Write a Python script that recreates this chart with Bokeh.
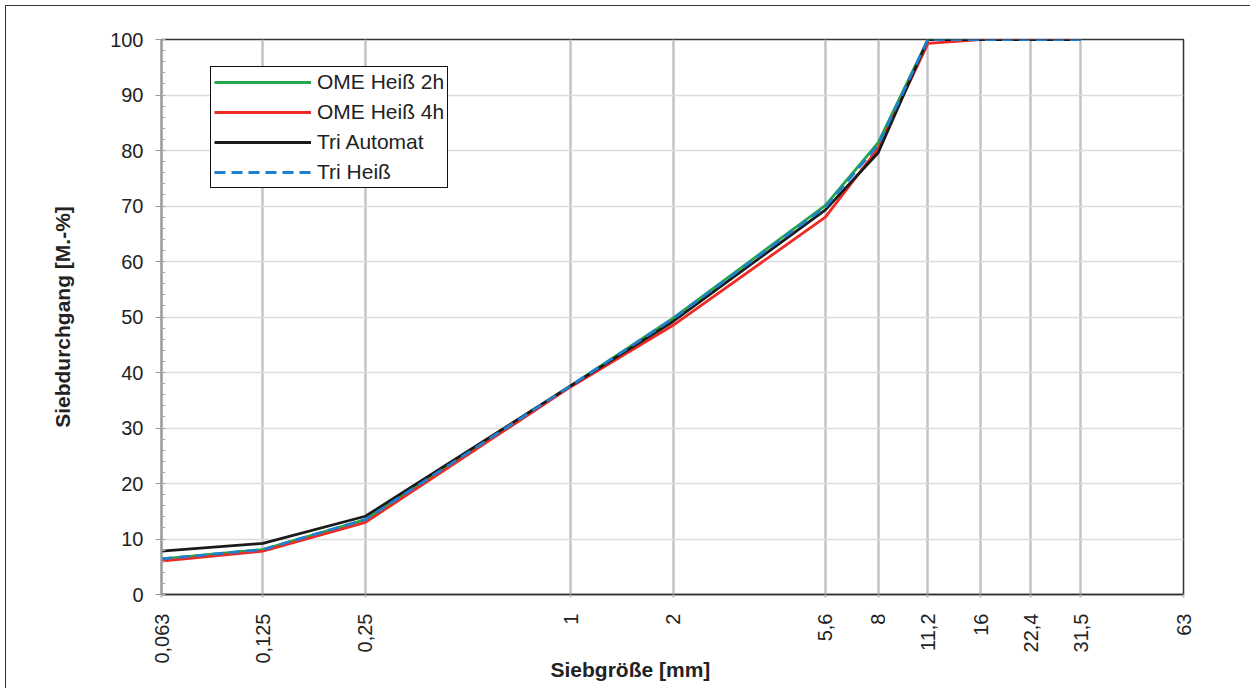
import math
from bokeh.plotting import figure
from bokeh.models import Range1d, FixedTicker, Legend, LegendItem, Title
from bokeh.embed import file_html
from bokeh.resources import INLINE

# Sieve sizes [mm] and passing percentages [M.-%]
sieve_sizes = [0.063, 0.125, 0.25, 1, 2, 5.6, 8, 11.2, 16, 22.4, 31.5]
ome_hot_2h = [6.4, 8.1, 13.5, 37.6, 49.8, 70.1, 81.4, 100.0, 100.0, 100.0, 100.0]
ome_hot_4h = [6.0, 7.8, 13.0, 37.4, 48.5, 68.0, 80.4, 99.3, 100.0, 100.0, 100.0]
tri_auto = [7.8, 9.2, 14.1, 37.6, 49.2, 69.3, 79.6, 100.0, 100.0, 100.0, 100.0]
tri_hot = [6.4, 8.1, 13.5, 37.6, 49.7, 69.8, 81.0, 100.0, 100.0, 100.0, 100.0]

# Axis ticks
x_ticks = [0.063, 0.125, 0.25, 1, 2, 5.6, 8, 11.2, 16, 22.4, 31.5, 63]
x_tick_labels = ["0,063", "0,125", "0,25", "1", "2", "5,6", "8", "11,2", "16", "22,4", "31,5", "63"]
y_ticks = list(range(0, 101, 10))

FONT = "Liberation Sans"
FS = "20px"
FS_BIG = "21px"

p = figure(
    width=1245, height=683,
    x_axis_type="log",
    x_range=Range1d(0.063, 63), y_range=Range1d(0, 100),
    output_backend="svg", toolbar_location=None,
    min_border_left=155, min_border_top=33, min_border_right=68, min_border_bottom=95,
    styles={"margin-left": "5px", "margin-top": "5px",
            "border-left": "1px solid #333", "border-top": "1px solid #333"},
)
p.background_fill_color = "white"
p.border_fill_color = "white"
p.outline_line_color = "#333333"
p.outline_line_width = 1.5

# x axis
xa = p.xaxis[0]
xa.ticker = FixedTicker(ticks=x_ticks, minor_ticks=[])
xa.major_label_overrides = {t: l for t, l in zip(x_ticks, x_tick_labels)}
xa.major_label_orientation = math.pi / 2
xa.major_label_text_font = FONT
xa.major_label_text_font_size = FS
xa.major_label_text_color = "#222222"
xa.major_label_standoff = 16
xa.major_tick_out = 3
xa.major_tick_in = 0
xa.major_tick_line_color = "#bbbbbb"
xa.major_tick_line_width = 2
xa.minor_tick_line_color = None
xa.axis_line_color = "#333333"
xa.axis_line_width = 1.5

# y axis
ya = p.yaxis[0]
ya.ticker = FixedTicker(ticks=y_ticks, minor_ticks=list(range(0, 101, 2)))
ya.major_label_text_font = FONT
ya.major_label_text_font_size = FS
ya.major_label_text_color = "#222222"
ya.major_label_standoff = 12
ya.major_tick_out = 6
ya.major_tick_in = 0
ya.major_tick_line_color = "#999999"
ya.minor_tick_in = 4
ya.minor_tick_out = 0
ya.minor_tick_line_color = "#aaaaaa"
ya.axis_line_color = "#999999"
ya.axis_line_width = 2
ya.axis_label = "Siebdurchgang [M.-%]"
ya.axis_label_text_font = FONT
ya.axis_label_text_font_size = FS_BIG
ya.axis_label_text_font_style = "bold"
ya.axis_label_text_color = "#222222"
ya.axis_label_standoff = 33

# grids
p.xgrid.ticker = FixedTicker(ticks=x_ticks, minor_ticks=[])
p.xgrid.grid_line_color = "#c3c3c8"
p.xgrid.grid_line_width = 2.5
p.ygrid.ticker = FixedTicker(ticks=y_ticks, minor_ticks=[])
p.ygrid.grid_line_color = "#dcdcdc"
p.ygrid.grid_line_width = 1.5

# series
r_green = p.line(sieve_sizes, ome_hot_2h, line_color="#22a84a", line_width=2.8)
r_red = p.line(sieve_sizes, ome_hot_4h, line_color="#ee2a24", line_width=2.8)
r_black = p.line(sieve_sizes, tri_auto, line_color="#1a1a1a", line_width=2.8)
r_blue = p.line(sieve_sizes, tri_hot, line_color="#1f80d0", line_width=2.8, line_dash="11 6")

legend = Legend(
    items=[
        LegendItem(label="OME Heiß 2h", renderers=[r_green]),
        LegendItem(label="OME Heiß 4h", renderers=[r_red]),
        LegendItem(label="Tri Automat", renderers=[r_black]),
        LegendItem(label="Tri Heiß", renderers=[r_blue]),
    ],
    location=(49, 406),
    margin=0,
    padding=3,
    spacing=6,
    glyph_width=97,
    glyph_height=22,
    label_standoff=6,
    label_height=22,
    label_text_font=FONT,
    label_text_font_size=FS_BIG,
    label_text_color="#222222",
    border_line_color="#111111",
    border_line_alpha=1.0,
    border_line_width=1.5,
    background_fill_color="white",
    background_fill_alpha=1.0,
)
p.add_layout(legend)

# x axis title, set left of centre below the tick labels
p.add_layout(Title(
    text="Siebgröße [mm]", align="left", offset=389, standoff=-22,
    text_font=FONT, text_font_size=FS_BIG, text_font_style="bold",
    text_color="#222222",
), "below")

open("out.html", "w").write(file_html(p, INLINE))
